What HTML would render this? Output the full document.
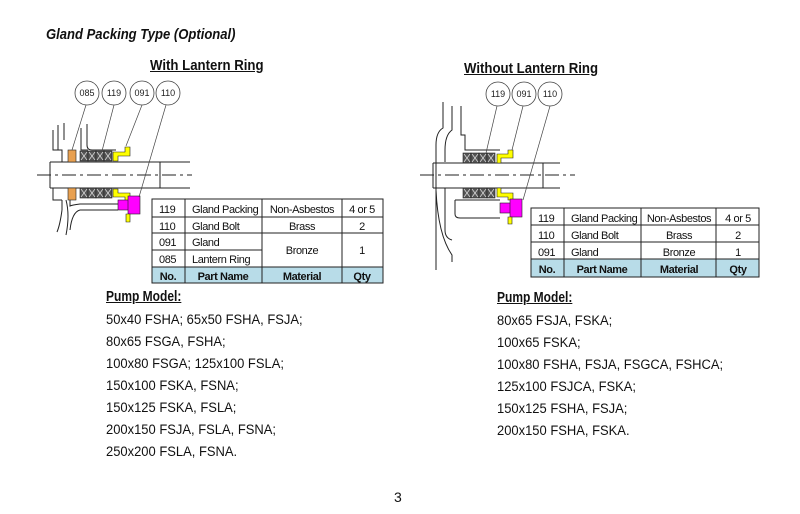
<!DOCTYPE html>
<html><head><meta charset="utf-8"><style>
body{margin:0;background:#fff;}
#p{position:relative;width:800px;height:514px;overflow:hidden;font-family:"Liberation Sans",sans-serif;color:#111;}
.t{position:absolute;white-space:nowrap;transform-origin:0 0;}
.list{font-size:13.5px;line-height:22px;transform:scaleX(0.96);}
.h{font-size:15px;font-weight:bold;text-decoration:underline;transform:scaleX(0.88);}
</style></head><body><div id="p">
<svg width="800" height="514" style="position:absolute;left:0;top:0" font-family="Liberation Sans, sans-serif">
<defs>
<g id="pk"><rect x="0" y="0" width="8" height="10" fill="#555" stroke="#222" stroke-width=".6"/><path d="M1 1L7 9M7 1L1 9" stroke="#ddd" stroke-width=".7"/></g>
</defs>
<!-- LEFT drawing -->
<g stroke="#222" stroke-width="1" fill="none">
<path d="M53 130V150H62V162M58 125V150M64 123V140M81 128V150H88"/>
<path d="M87 124V145Q87 150 92 150H116"/>
<path d="M50 162H190M50 188H190M160 162V188M50 162V188"/>
<path d="M37 175H192" stroke-dasharray="14,4,3,4"/>
<path d="M53 188V200H62M62 200V210M62 210Q60 225 57 232M66 200Q70 215 66 235M70 200V206Q72 205 80 204H118M80 210Q72 212 70 230M80 210H118"/>
</g>
<g fill="#e8a050" stroke="#222" stroke-width=".6"><rect x="68" y="150" width="8" height="12"/><rect x="68" y="188" width="8" height="12"/></g>
<use href="#pk" x="80" y="151"/><use href="#pk" x="88" y="151"/><use href="#pk" x="96" y="151"/><use href="#pk" x="104" y="151"/>
<use href="#pk" x="80" y="188"/><use href="#pk" x="88" y="188"/><use href="#pk" x="96" y="188"/><use href="#pk" x="104" y="188"/>
<path d="M113 152H125V147H130V156H118V161H113Z" fill="#ff0" stroke="#222" stroke-width=".6"/>
<path d="M113 189H118V193H130V202H125V197H113Z" fill="#ff0" stroke="#222" stroke-width=".6"/>
<rect x="118" y="200" width="14" height="10" fill="#f0f" stroke="#222" stroke-width=".6"/>
<rect x="128" y="196" width="12" height="18" fill="#f0f" stroke="#222" stroke-width=".6"/>
<path d="M126 214H130V222H126Z" fill="#ff0" stroke="#222" stroke-width=".6"/>
<g stroke="#444" stroke-width=".7" fill="none">
<line x1="86" y1="105" x2="72" y2="150"/><line x1="114" y1="105" x2="102" y2="151"/><line x1="142" y1="105" x2="126" y2="146"/><line x1="166" y1="105" x2="139" y2="197"/>
</g>
<g fill="#fff" stroke="#444" stroke-width=".8"><circle cx="87" cy="93" r="12"/><circle cx="114" cy="93" r="12"/><circle cx="142" cy="93" r="12"/><circle cx="168" cy="93" r="12"/></g>
<g font-size="9" text-anchor="middle" fill="#222"><text x="87" y="96">085</text><text x="114" y="96">119</text><text x="142" y="96">091</text><text x="168" y="96">110</text></g>
<!-- RIGHT drawing -->
<g stroke="#222" stroke-width="1" fill="none">
<path d="M443 102V128Q436 132 436 145V270M452 106V130Q445 135 445 150V162M461 106V135H465V150H500"/>
<path d="M433 163H560M433 188H560M543 163V188M433 163V188"/>
<path d="M420 175H575" stroke-dasharray="14,4,3,4"/>
<path d="M445 188V230Q445 238 452 240M436 190Q438 235 452 255V262M455 200V214Q455 218 460 218H500M461 200H500M455 200H461"/>
</g>
<use href="#pk" x="463" y="153"/><use href="#pk" x="471" y="153"/><use href="#pk" x="479" y="153"/><use href="#pk" x="487" y="153"/>
<use href="#pk" x="463" y="188"/><use href="#pk" x="471" y="188"/><use href="#pk" x="479" y="188"/><use href="#pk" x="487" y="188"/>
<path d="M497 154H508V150H513V158H501V163H497Z" fill="#ff0" stroke="#222" stroke-width=".6"/>
<path d="M497 188H501V193H513V200H508V197H497Z" fill="#ff0" stroke="#222" stroke-width=".6"/>
<rect x="500" y="203" width="14" height="10" fill="#f0f" stroke="#222" stroke-width=".6"/>
<rect x="510" y="199" width="12" height="18" fill="#f0f" stroke="#222" stroke-width=".6"/>
<path d="M508 217H512V224H508Z" fill="#ff0" stroke="#222" stroke-width=".6"/>
<g stroke="#444" stroke-width=".7" fill="none">
<line x1="497" y1="106" x2="486" y2="153"/><line x1="523" y1="106" x2="512" y2="150"/><line x1="550" y1="106" x2="523" y2="200"/>
</g>
<g fill="#fff" stroke="#444" stroke-width=".8"><circle cx="498" cy="94" r="12"/><circle cx="524" cy="94" r="12"/><circle cx="550" cy="94" r="12"/></g>
<g font-size="9" text-anchor="middle" fill="#222"><text x="498" y="97">119</text><text x="524" y="97">091</text><text x="550" y="97">110</text></g>
<!-- LEFT table -->
<rect x="152" y="267" width="231" height="16" fill="#b8dce8"/>
<g stroke="#222" stroke-width="1" fill="none">
<rect x="152" y="199" width="231" height="84"/>
<path d="M152 217H383M152 233H383M152 250H262M152 267H383M185 199V283M262 199V283M342 199V283"/>
</g>
<g font-size="11" letter-spacing="-0.4" fill="#111">
<text x="159" y="213">119</text><text x="192" y="213">Gland Packing</text><text x="302" y="213" text-anchor="middle">Non-Asbestos</text><text x="362" y="213" text-anchor="middle">4 or 5</text>
<text x="159" y="230">110</text><text x="192" y="230">Gland Bolt</text><text x="302" y="230" text-anchor="middle">Brass</text><text x="362" y="230" text-anchor="middle">2</text>
<text x="159" y="246">091</text><text x="192" y="246">Gland</text><text x="302" y="254" text-anchor="middle">Bronze</text><text x="362" y="254" text-anchor="middle">1</text>
<text x="159" y="263">085</text><text x="192" y="263">Lantern Ring</text>
<g font-weight="bold"><text x="168" y="280" text-anchor="middle">No.</text><text x="223" y="280" text-anchor="middle">Part Name</text><text x="302" y="280" text-anchor="middle">Material</text><text x="362" y="280" text-anchor="middle">Qty</text></g>
</g>
<!-- RIGHT table -->
<rect x="531" y="259" width="228" height="18" fill="#b8dce8"/>
<g stroke="#222" stroke-width="1" fill="none">
<rect x="531" y="208" width="228" height="69"/>
<path d="M531 225H759M531 242H759M531 259H759M564 208V277M641 208V277M716 208V277"/>
</g>
<g font-size="11" letter-spacing="-0.4" fill="#111">
<text x="538" y="222">119</text><text x="571" y="222">Gland Packing</text><text x="679" y="222" text-anchor="middle">Non-Asbestos</text><text x="738" y="222" text-anchor="middle">4 or 5</text>
<text x="538" y="239">110</text><text x="571" y="239">Gland Bolt</text><text x="679" y="239" text-anchor="middle">Brass</text><text x="738" y="239" text-anchor="middle">2</text>
<text x="538" y="256">091</text><text x="571" y="256">Gland</text><text x="679" y="256" text-anchor="middle">Bronze</text><text x="738" y="256" text-anchor="middle">1</text>
<g font-weight="bold"><text x="547" y="273" text-anchor="middle">No.</text><text x="602" y="273" text-anchor="middle">Part Name</text><text x="679" y="273" text-anchor="middle">Material</text><text x="738" y="273" text-anchor="middle">Qty</text></g>
</g>
</svg>
<div class="t" style="left:46px;top:26px;font-size:15px;font-weight:bold;font-style:italic;transform:scaleX(0.87);">Gland Packing Type (Optional)</div>
<div class="t h" style="left:150px;top:57px;">With Lantern Ring</div>
<div class="t h" style="left:464px;top:60px;">Without Lantern Ring</div>
<div class="t h" style="left:106px;top:288px;transform:scaleX(0.8);">Pump Model:</div>
<div class="t list" style="left:106px;top:309px;">50x40 FSHA; 65x50 FSHA, FSJA;<br>80x65 FSGA, FSHA;<br>100x80 FSGA; 125x100 FSLA;<br>150x100 FSKA, FSNA;<br>150x125 FSKA, FSLA;<br>200x150 FSJA, FSLA, FSNA;<br>250x200 FSLA, FSNA.</div>
<div class="t h" style="left:497px;top:289px;transform:scaleX(0.8);">Pump Model:</div>
<div class="t list" style="left:497px;top:310px;">80x65 FSJA, FSKA;<br>100x65 FSKA;<br>100x80 FSHA, FSJA, FSGCA, FSHCA;<br>125x100 FSJCA, FSKA;<br>150x125 FSHA, FSJA;<br>200x150 FSHA, FSKA.</div>
<div class="t" style="left:394px;top:489px;font-size:14px;">3</div>
</div></body></html>
